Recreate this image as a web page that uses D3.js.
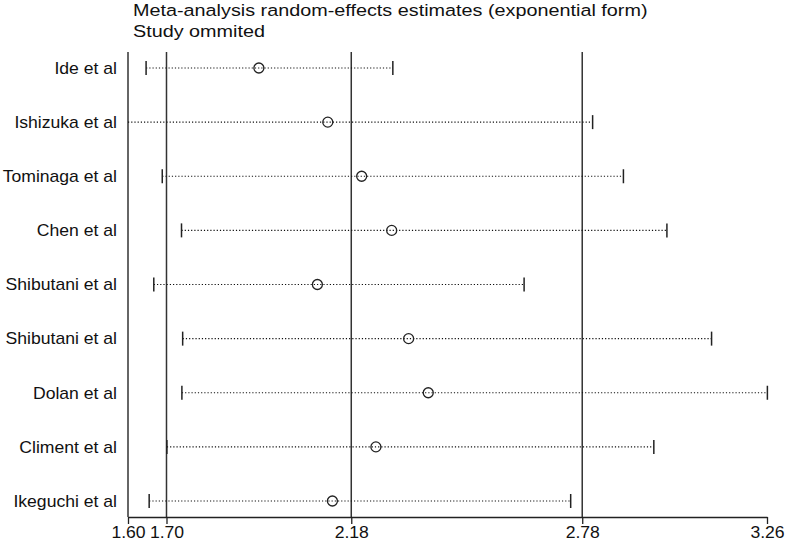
<!DOCTYPE html>
<html>
<head>
<meta charset="utf-8">
<script src="https://cdn.jsdelivr.net/npm/d3@7"></script>
<style>
  body { margin: 0; background: #fff; }
  svg text { font-family: "Liberation Sans", Arial, sans-serif; fill: #111; }
</style>
</head>
<body>
<div id="chart"></div>
<script>
// study omitted, estimate with lower / upper CI
const studies = ['Ide et al', 'Ishizuka et al', 'Tominaga et al', 'Chen et al', 'Shibutani et al',
  'Shibutani et al ', 'Dolan et al', 'Climent et al', 'Ikeguchi et al'];
const estimates = [1.94, 2.119, 2.207, 2.285, 2.092, 2.329, 2.38, 2.244, 2.131];
const lowerCI = [1.647, 1.595, 1.689, 1.739, 1.667, 1.742, 1.74, 1.701, 1.655];
const upperCI = [2.288, 2.807, 2.887, 3.0, 2.629, 3.116, 3.261, 2.966, 2.75];
const tickValues = [1.60, 1.70, 2.18, 2.78, 3.26];
const refLines = [1.70, 2.18, 2.78];

const width = 792, height = 545;
const margin = {top: 52, left: 128, right: 25, bottom: 28};
const axisY = height - margin.bottom;
const lineColor = '#333';

const svg = d3.select('#chart').append('svg')
  .attr('width', width)
  .attr('height', height);

const x = d3.scaleLinear()
  .domain([1.60, 3.26])
  .range([margin.left, 767]);

const y = d3.scalePoint()
  .domain(studies)
  .range([68, 501]);

// titles (the source picture is stretched sideways a bit)
svg.append('text')
  .attr('transform', 'translate(133,16) scale(1.2,1)')
  .style('font-size', '16.5px')
  .text('Meta-analysis random-effects estimates (exponential form)');
svg.append('text')
  .attr('transform', 'translate(133,37) scale(1.2,1)')
  .style('font-size', '16.5px')
  .text('Study ommited');

// left frame line
svg.append('line')
  .attr('x1', x(1.60)).attr('x2', x(1.60))
  .attr('y1', margin.top).attr('y2', axisY)
  .attr('stroke', lineColor).attr('stroke-width', 1.5);

// reference lines
svg.selectAll('.ref')
  .data(refLines)
  .enter().append('line')
  .attr('class', 'ref')
  .attr('x1', d => x(d)).attr('x2', d => x(d))
  .attr('y1', margin.top).attr('y2', axisY)
  .attr('stroke', lineColor).attr('stroke-width', 1.5);

// x axis
const axis = svg.append('g')
  .attr('transform', 'translate(0,' + axisY + ')')
  .call(d3.axisBottom(x).tickValues(tickValues).tickFormat(d3.format('.2f'))
    .tickSize(7).tickPadding(3).tickSizeOuter(0));
axis.select('.domain').attr('stroke', '#222').attr('stroke-width', 1.3);
axis.selectAll('.tick line').attr('stroke', '#222').attr('stroke-width', 1.3);
axis.selectAll('.tick text')
  .attr('transform', 'scale(1.1,1)')
  .attr('x', 0)
  .style('font-size', '16px')
  .style('font-family', '"Liberation Sans", Arial, sans-serif')
  .attr('fill', '#111');
// keep the scaled labels centred on their ticks
axis.selectAll('.tick').each(function (d) {
  d3.select(this).select('text').attr('transform', 'scale(1.1,1)');
});

// study labels
svg.selectAll('.label')
  .data(studies)
  .enter().append('text')
  .attr('class', 'label')
  .attr('transform', d => 'translate(117,' + y(d) + ') scale(1.1,1)')
  .attr('dy', '0.36em')
  .attr('text-anchor', 'end')
  .style('font-size', '16px')
  .text(d => d.trim());

const rows = studies.map((s, i) => ({s: s, est: estimates[i], lo: lowerCI[i], hi: upperCI[i]}));

// dotted CI lines
svg.selectAll('.ci')
  .data(rows)
  .enter().append('line')
  .attr('class', 'ci')
  .attr('x1', d => x(Math.max(d.lo, 1.60)))
  .attr('x2', d => x(d.hi))
  .attr('y1', d => y(d.s)).attr('y2', d => y(d.s))
  .attr('stroke', '#111')
  .attr('stroke-width', 1.2)
  .attr('stroke-dasharray', '1.2,2');

// end caps (only where the interval lies within the axis)
svg.selectAll('.capLo')
  .data(rows.filter(d => d.lo >= 1.60))
  .enter().append('line')
  .attr('class', 'capLo')
  .attr('x1', d => x(d.lo)).attr('x2', d => x(d.lo))
  .attr('y1', d => y(d.s) - 7).attr('y2', d => y(d.s) + 7)
  .attr('stroke', '#222').attr('stroke-width', 1.5);

svg.selectAll('.capHi')
  .data(rows)
  .enter().append('line')
  .attr('class', 'capHi')
  .attr('x1', d => x(d.hi)).attr('x2', d => x(d.hi))
  .attr('y1', d => y(d.s) - 7).attr('y2', d => y(d.s) + 7)
  .attr('stroke', '#222').attr('stroke-width', 1.5);

// estimate markers
svg.selectAll('.est')
  .data(rows)
  .enter().append('circle')
  .attr('class', 'est')
  .attr('cx', d => x(d.est))
  .attr('cy', d => y(d.s))
  .attr('r', 5)
  .attr('fill', 'none')
  .attr('stroke', '#222')
  .attr('stroke-width', 1.3);
</script>
</body>
</html>
